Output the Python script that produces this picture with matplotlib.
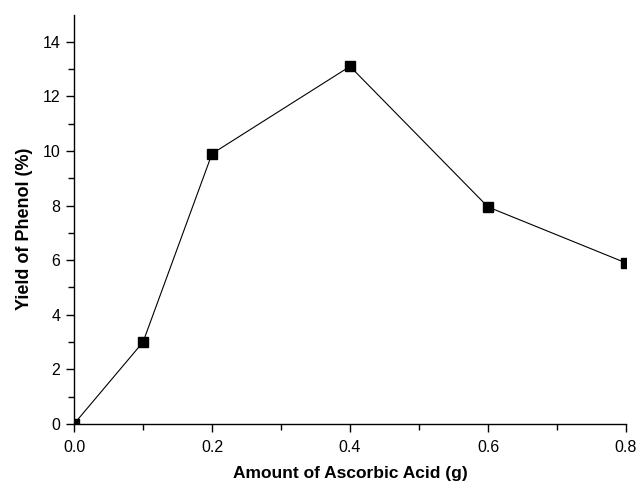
import matplotlib.pyplot as plt

# Ascorbic acid loading vs phenol yield
amount = [0.0, 0.1, 0.2, 0.4, 0.6, 0.8]
yield_pct = [0.0, 3.0, 9.9, 13.1, 7.95, 5.9]

plt.rcParams['font.family'] = ['Liberation Sans', 'DejaVu Sans']

fig = plt.figure(figsize=(6.36, 4.84), dpi=100)
ax = fig.add_axes([0.1164, 0.124, 0.8679, 0.846])

ax.plot(amount, yield_pct, color='black', linewidth=0.8,
        marker='s', markersize=7.2, markerfacecolor='black', markeredgecolor='black')

ax.set_xlim(0, 0.8)
ax.set_ylim(0, 15)
ax.set_xticks([0.0, 0.2, 0.4, 0.6, 0.8])
ax.set_xticks([0.1, 0.3, 0.5, 0.7], minor=True)
ax.set_yticks([0, 2, 4, 6, 8, 10, 12, 14])
ax.set_yticks([1, 3, 5, 7, 9, 11, 13], minor=True)
ax.xaxis.set_major_formatter(plt.FormatStrFormatter('%.1f'))

for side in ['top', 'right']:
    ax.spines[side].set_visible(False)
for side in ['left', 'bottom']:
    ax.spines[side].set_linewidth(1.0)

ax.tick_params(which='major', direction='out', length=6, width=1, labelsize=11.5, pad=4)
ax.tick_params(axis='x', which='major', pad=5.5)
ax.tick_params(which='minor', direction='out', length=4, width=1)

ax.set_xlabel('Amount of Ascorbic Acid (g)', fontsize=12.5, fontweight='bold')
ax.set_ylabel('Yield of Phenol (%)', fontsize=13, fontweight='bold')
ax.xaxis.set_label_coords(0.5, -0.102)
ax.yaxis.set_label_coords(-0.075, 0.476)

fig.savefig('out.png', dpi=100)
